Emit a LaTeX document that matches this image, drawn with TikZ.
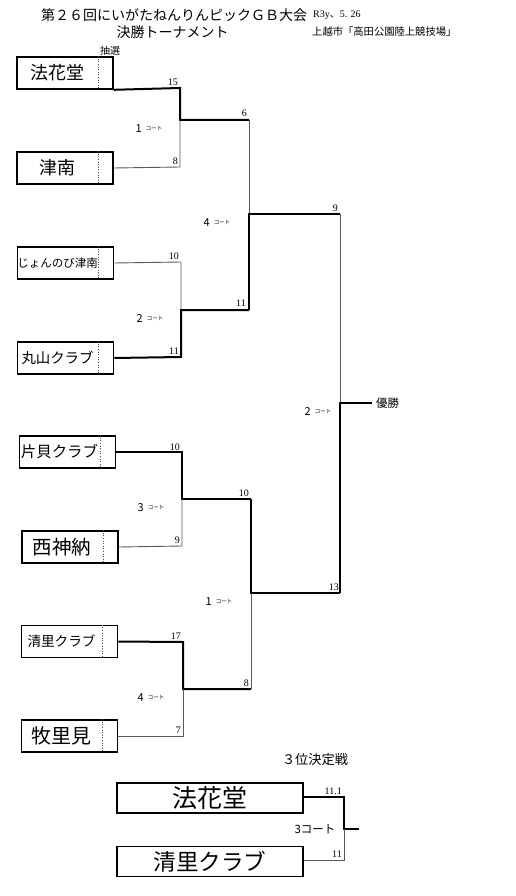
\documentclass[tikz,border=0pt]{standalone}
\usepackage{fontspec}
\setmainfont{Noto Sans CJK JP}
\newfontfamily\numfont{Liberation Serif}
\newcommand{\fs}[1]{\fontsize{#1}{#1}\selectfont}
\newcommand{\crt}[1]{\fs{11}#1\hspace{4pt}\raisebox{2pt}{\fs{5.5}コート}}
\tikzset{
  team/.style={draw, line width=1.6pt, minimum height=32pt, inner xsep=0pt, inner ysep=0pt},
  wide/.style={draw, line width=1.6pt, minimum height=30pt, minimum width=186pt, inner sep=0pt},
  winl/.style={line width=2pt},
  losel/.style={line width=0.9pt, black!65},
  sepl/.style={dotted, line width=0.6pt, black!70},
  score/.style={font=\numfont\fs{10}, inner sep=0pt, anchor=south east},
  court/.style={inner sep=0pt},
  txt/.style={inner sep=0pt}
}
\newcommand{\tm}[2]{\makebox[80pt]{\fs{#1}#2}\makebox[16pt]{}}
\begin{document}
\begin{tikzpicture}[x=1pt,y=-1pt]
\useasboundingbox (0,0) rectangle (516,896);
% titles
\node[txt] (title1) at (174,15) {\fs{14}第２６回にいがたねんりんピックＧＢ大会};
\node[txt] (title2) at (172.5,32) {\fs{14}決勝トーナメント};
\node[txt, anchor=west] (date) at (313,15) {\numfont\fs{10}R3y\fontspec{Noto Sans CJK JP}、\numfont 5. 26};
\node[txt, anchor=west] (place) at (312,32) {\fs{10.3}上越市「高田公園陸上競技場」};
\node[txt] (draw) at (110,51) {\fs{10}抽選};
% teams
\node[team] (t1) at (65,73) {\tm{18}{法花堂}};
\node[team] (t2) at (65,168) {\tm{18}{津南}};
\node[team] (t3) at (65.5,263) {\tm{11.5}{じょんのび津南}};
\node[team] (t4) at (65.5,358) {\tm{14.4}{丸山クラブ}};
\node[team] (t5) at (67.5,452) {\tm{15.4}{片貝クラブ}};
\node[team] (t6) at (70,547) {\tm{19.5}{西神納}};
\node[team] (t7) at (69.5,641.5) {\tm{13.6}{清里クラブ}};
\node[team] (t8) at (69.5,736) {\tm{20}{牧里見}};
\foreach \t in {t1,t2,t3,t4,t5,t6,t7,t8}{
  \draw[sepl] ([xshift=-16pt]\t.north east) -- ([xshift=-16pt]\t.south east);
}
% bracket coordinates
\coordinate (m1a) at (180,88);  \coordinate (m1b) at (180,167); \coordinate (m1w) at (180,120);
\coordinate (m2a) at (181,262); \coordinate (m2b) at (181,357); \coordinate (m2w) at (181,310);
\coordinate (m3a) at (182,452); \coordinate (m3b) at (182,546); \coordinate (m3w) at (182,499);
\coordinate (m4a) at (183,642); \coordinate (m4b) at (183,736); \coordinate (m4w) at (183,689);
\coordinate (s1a) at (249,120); \coordinate (s1b) at (249,310); \coordinate (s1w) at (249,214);
\coordinate (s2a) at (251,499); \coordinate (s2b) at (251,689); \coordinate (s2w) at (251,593);
\coordinate (fa) at (340,214);  \coordinate (fb) at (340,593);  \coordinate (fw) at (340,403);
\coordinate (champ) at (372,403);
% round 1
\draw[winl] (t1.south east) -- (m1a) -- (m1w) -- (s1a);
\draw[losel] (t2.east) -- (m1b) -- (m1w);
\draw[losel] (t3.east) -- (m2a) -- (m2w);
\draw[winl] (t4.east) -- (m2b) -- (m2w) -- (s1b);
\draw[winl] (t5.east) -- (m3a) -- (m3w) -- (s2a);
\draw[losel] (t6.east) -- (m3b) -- (m3w);
\draw[winl] (t7.east) -- (m4a) -- (m4w) -- (s2b);
\draw[losel] (t8.east) -- (m4b) -- (m4w);
% semis
\draw[losel] (s1a) -- (s1w);
\draw[winl] (s1b) -- (s1w) -- (fa);
\draw[winl] (s2a) -- (s2w) -- (fb);
\draw[losel] (s2b) -- (s2w);
% final
\draw[losel] (fa) -- (fw);
\draw[winl] (fb) -- (fw) -- (champ);
\node[txt, anchor=west] (champl) at (376,403) {\fs{11.5}優勝};
% scores
\node[score] (sc1) at (178,86) {15};
\node[score] (sc2) at (178,165) {8};
\node[score] (sc3) at (179,260) {10};
\node[score] (sc4) at (179,355) {11};
\node[score] (sc5) at (180,451) {10};
\node[score] (sc6) at (180,544) {9};
\node[score] (sc7) at (181,640) {17};
\node[score] (sc8) at (181,734) {7};
\node[score] (sc9) at (247,117) {6};
\node[score] (sc10) at (246,307) {11};
\node[score] (sc11) at (249,497) {10};
\node[score] (sc12) at (249,687) {8};
\node[score] (sc13) at (338,212) {9};
\node[score] (sc14) at (339,591) {13};
% courts
\node[court] (c1) at (149,129) {\crt{1}};
\node[court] (c2) at (150,319) {\crt{2}};
\node[court] (c3) at (151,508) {\crt{3}};
\node[court] (c4) at (151,698) {\crt{4}};
\node[court] (c5) at (217,223) {\crt{4}};
\node[court] (c6) at (219,602) {\crt{1}};
\node[court] (c7) at (318,412) {\crt{2}};
% third place
\node[txt] (third) at (315,760) {\fs{13.2}３位決定戦};
\node[wide] (b1) at (210,798) {\fs{25}法花堂};
\node[wide] (b2) at (210,861.5) {\fs{22.6}清里クラブ};
\coordinate (d1) at (344,797); \coordinate (d2) at (344,860); \coordinate (dw) at (344,829);
\coordinate (dend) at (359,829);
\draw[winl] (b1.east |- d1) -- (d1) -- (dw) -- (dend);
\draw[losel] (b2.east |- d2) -- (d2) -- (dw);
\node[score] (sd1) at (342,795) {11.1};
\node[score] (sd2) at (342,858) {11};
\node[txt] (c8) at (315,829) {\fs{11.5}3コート};
\end{tikzpicture}
\end{document}
